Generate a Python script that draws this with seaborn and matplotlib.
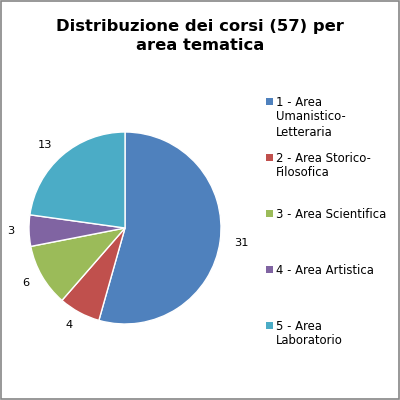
import matplotlib
matplotlib.use("Agg")
import matplotlib.pyplot as plt
import seaborn as sns
from matplotlib.patches import Rectangle

# data
areas = [
    "1 - Area\nUmanistico-\nLetteraria",
    "2 - Area Storico-\nFilosofica",
    "3 - Area Scientifica",
    "4 - Area Artistica",
    "5 - Area\nLaboratorio",
]
corsi = [31, 4, 6, 3, 13]
colori = ["#4F81BD", "#C0504D", "#9BBB59", "#8064A2", "#4BACC6"]

sns.set_theme(style="white")
plt.rcParams["font.family"] = ["DejaVu Sans"]
palette = sns.color_palette(colori)

fig = plt.figure(figsize=(4, 4), dpi=100)
fig.patch.set_facecolor("white")
fig.patches.append(Rectangle((0.0015, 0.0015), 0.997, 0.997, transform=fig.transFigure,
                             fill=False, edgecolor="#868686", linewidth=1.2))

fig.text(0.5, 0.953, "Distribuzione dei corsi (57) per\narea tematica", ha="center", va="top",
         fontsize=11.8, fontweight="bold", linespacing=1.35, color="black")

ax = fig.add_axes([0.0725, 0.19, 0.48, 0.48])
wedges, texts = ax.pie(corsi, colors=palette, startangle=90, counterclock=False,
                       labels=[str(v) for v in corsi], labeldistance=1.15,
                       textprops={"fontsize": 8.2, "color": "black"})
ax.set_xlim(-1, 1)
ax.set_ylim(-1, 1)
ax.set_aspect("equal")

# legend drawn by hand, one entry per row
for i, (nome, c) in enumerate(zip(areas, palette)):
    ytop = (400 - 96 - 56 * i) / 400
    fig.patches.append(Rectangle((266 / 400, ytop - 9 / 400), 7 / 400, 7 / 400,
                                 transform=fig.transFigure, facecolor=c, edgecolor="none"))
    fig.text(276 / 400, ytop + 0.5 / 400, nome, ha="left", va="top", fontsize=8.4,
             linespacing=1.2, color="black")

fig.savefig("out.png", dpi=100)
